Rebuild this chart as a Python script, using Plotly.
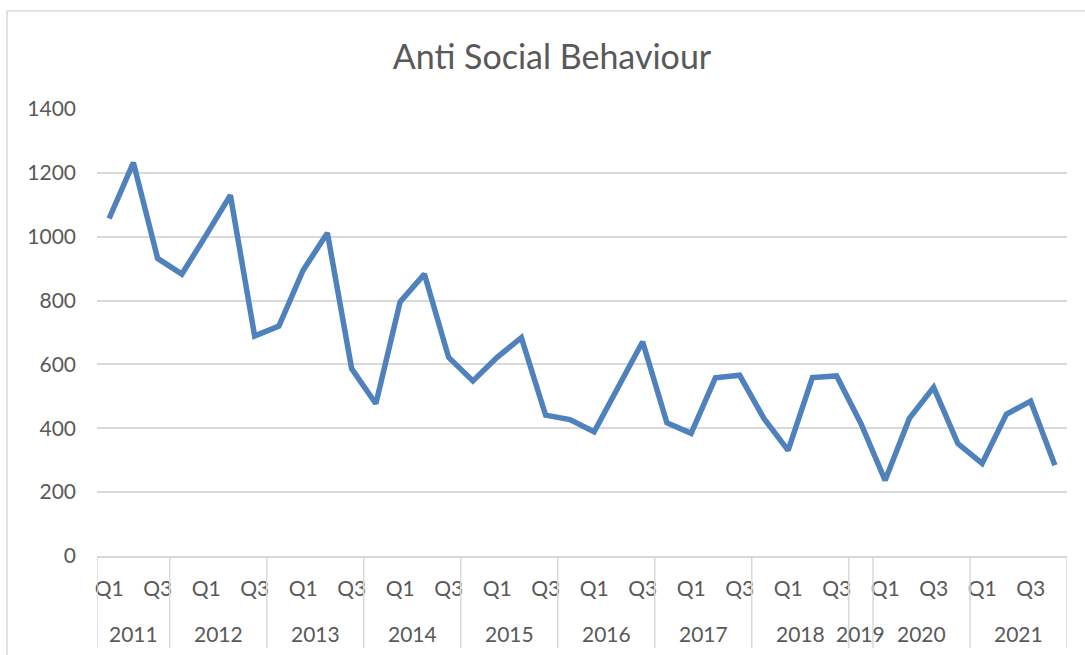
import plotly.graph_objects as go

# ---- data ----
quarters = ["Q1", "Q2", "Q3", "Q4"] * 10
years = ["2011", "2012", "2013", "2014", "2015", "2016", "2017", "2018", "2019", "2020", "2021"]
year_counts = [3, 4, 4, 4, 4, 4, 4, 4, 1, 4, 4]
values = [1057, 1232, 932, 883, 1005, 1130, 689, 720, 895, 1012,
          587, 477, 796, 883, 622, 548, 622, 684, 441, 427,
          389, 532, 671, 417, 384, 558, 566, 431, 331, 559,
          564, 415, 237, 431, 528, 352, 290, 444, 485, 284]
y_ticks = [0, 200, 400, 600, 800, 1000, 1200, 1400]
title_text = "Anti Social Behaviour"

# ---- layout geometry (pixels) ----
W, H = 1085, 655
L, R, T, B = 97, 18, 109, 99
pw, ph = W - L - R, H - T - B

def px_to_paper_x(px):
    return (px - L) / pw

def px_to_paper_y(py):
    return (H - B - py) / ph

TEXT = "#595959"
GRID = "#D9D9D9"
FONT = "Lato"

n = len(values)
xs = list(range(n))
label_idx = [i for i in xs if i % 2 == 0]

fig = go.Figure()
fig.add_trace(go.Scatter(
    x=xs, y=values, mode="lines",
    line=dict(color="#4F81BD", width=5.5, shape="linear"),
    hoverinfo="y", showlegend=False,
))

shapes = []
annotations = []
start = 0
bounds = [-0.5]
for yr, cnt in zip(years, year_counts):
    end = start + cnt
    annotations.append(dict(
        x=(start + end - 1) / 2, y=px_to_paper_y(633), xref="x", yref="paper",
        text=yr, showarrow=False, xanchor="center", yanchor="middle",
        font=dict(family=FONT, size=21, color=TEXT),
    ))
    bounds.append(end - 0.5)
    start = end

for b in bounds:
    shapes.append(dict(type="line", xref="x", yref="paper",
                       x0=b, x1=b, y0=0, y1=px_to_paper_y(648),
                       line=dict(color=GRID, width=1.5)))

# chart-area border (left and top)
shapes.append(dict(type="line", xref="paper", yref="paper",
                   x0=px_to_paper_x(7), x1=px_to_paper_x(7),
                   y0=px_to_paper_y(11), y1=px_to_paper_y(700),
                   line=dict(color=GRID, width=1.5)))
shapes.append(dict(type="line", xref="paper", yref="paper",
                   x0=px_to_paper_x(7), x1=px_to_paper_x(1200),
                   y0=px_to_paper_y(11), y1=px_to_paper_y(11),
                   line=dict(color=GRID, width=1.5)))

fig.update_layout(
    width=W, height=H,
    margin=dict(l=L, r=R, t=T, b=B, pad=0),
    paper_bgcolor="white", plot_bgcolor="white",
    title=dict(text=title_text, xref="container", yref="container",
               x=552 / W, y=1 - 57 / H, xanchor="center", yanchor="middle",
               font=dict(family=FONT, size=34, color=TEXT)),
    shapes=shapes, annotations=annotations,
    xaxis=dict(
        range=[-0.5, n - 0.5], tickmode="array",
        tickvals=label_idx, ticktext=[quarters[i] for i in label_idx],
        showgrid=False, zeroline=False, showline=True, linecolor=GRID, linewidth=1.5,
        ticks="", tickangle=0, ticklabelstandoff=13,
        tickfont=dict(family=FONT, size=21, color=TEXT), fixedrange=True,
    ),
    yaxis=dict(
        range=[0, 1400], tickmode="array", tickvals=y_ticks,
        showgrid=True, gridcolor=GRID, gridwidth=1.5, zeroline=False,
        showline=False, ticks="", ticklabelstandoff=20,
        tickfont=dict(family=FONT, size=21, color=TEXT), fixedrange=True,
    ),
)

fig.write_html("out.html",
               config={"displayModeBar": False},
               post_script="document.body.style.margin='0';document.body.style.overflow='hidden';")
